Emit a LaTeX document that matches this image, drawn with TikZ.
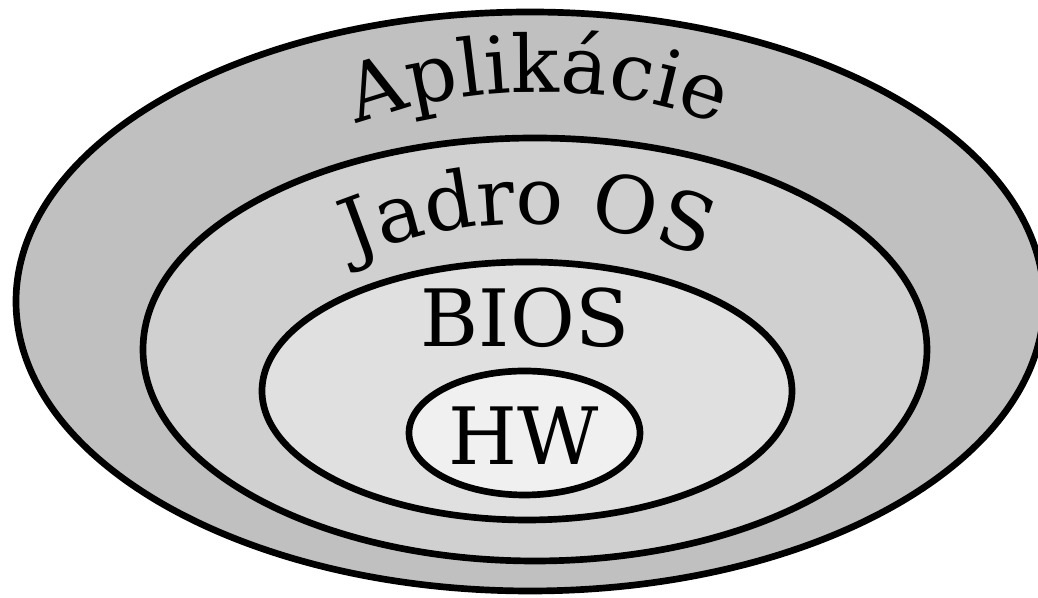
\documentclass[tikz,border=0pt]{standalone}
\usepackage{fontspec}
\setmainfont{DejaVu Serif}
\usetikzlibrary{decorations.text}

\definecolor{appgray}{RGB}{192,192,192}
\definecolor{kernelgray}{RGB}{208,208,208}
\definecolor{biosgray}{RGB}{224,224,224}
\definecolor{hwgray}{RGB}{240,240,240}
\newcommand{\layerfont}{\fontsize{22.5}{26}\selectfont}

\begin{document}
\begin{tikzpicture}[line width=1.9pt]

\useasboundingbox (0,0) rectangle (10.38,5.98);
\clip (0,0) rectangle (10.38,5.98);

\draw[fill=appgray] (5.30,2.965) ellipse [x radius=5.14, y radius=2.895];
\path[decorate, decoration={text along path, text align=center,
  text={|\layerfont|Aplikácie}}]
  (5.38,1.06) ++(150:4.6 and 4.0) arc [start angle=150, end angle=30, x radius=4.6, y radius=4.0];

\draw[fill=kernelgray] (5.35,2.485) ellipse [x radius=3.92, y radius=2.115];
\path[decorate, decoration={text along path, text align=center,
  text={|\layerfont|Jadro OS}}]
  (5.28,0.71) ++(150:3.8 and 3.03) arc [start angle=150, end angle=30, x radius=3.8, y radius=3.03];

\draw[fill=biosgray] (5.27,2.07) ellipse [x radius=2.65, y radius=1.29];
\node[anchor=base, inner sep=0pt] (bios) at (5.25,2.51) {\layerfont BIOS};

\draw[fill=hwgray] (5.245,1.65) ellipse [x radius=1.155, y radius=0.62];
\node[anchor=base, inner sep=0pt] (hw) at (5.235,1.33) {\layerfont HW};

\end{tikzpicture}
\end{document}
